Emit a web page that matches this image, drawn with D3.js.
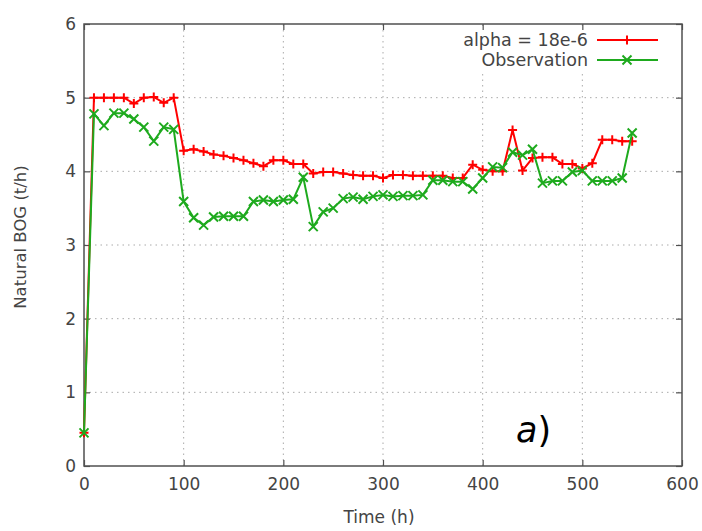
<!DOCTYPE html>
<html>
<head>
<meta charset="utf-8">
<script src="https://cdn.jsdelivr.net/npm/d3@7"></script>
<style>
  html, body { margin: 0; padding: 0; background: #fff; }
  svg { display: block; }
  text { font-family: "DejaVu Sans", sans-serif; fill: #444; }
</style>
</head>
<body>
<svg id="chart" width="702" height="531"></svg>
<script>
// ---- data ----
const times = [0,10,20,30,40,50,60,70,80,90,100,110,120,130,140,150,160,170,180,190,
  200,210,220,230,240,250,260,270,280,290,300,310,320,330,340,350,360,370,380,390,
  400,410,420,430,440,450,460,470,480,490,500,510,520,530,540,550];
const alphaSeries = [0.45,5.0,5.0,5.0,5.0,4.92,5.0,5.01,4.93,5.0,
  4.28,4.30,4.27,4.23,4.21,4.18,4.15,4.11,4.07,4.15,
  4.15,4.10,4.10,3.97,3.99,3.99,3.97,3.95,3.94,3.94,
  3.91,3.95,3.95,3.94,3.94,3.94,3.94,3.91,3.91,4.09,
  4.02,4.00,4.00,4.56,4.01,4.18,4.19,4.19,4.10,4.10,
  4.04,4.11,4.43,4.43,4.41,4.41];
const observation = [0.45,4.78,4.62,4.79,4.79,4.71,4.60,4.41,4.60,4.57,
  3.59,3.37,3.27,3.38,3.39,3.39,3.39,3.59,3.61,3.59,
  3.61,3.62,3.92,3.25,3.45,3.50,3.63,3.65,3.62,3.66,
  3.68,3.66,3.67,3.67,3.68,3.88,3.88,3.86,3.86,3.76,
  3.91,4.06,4.05,4.26,4.22,4.30,3.84,3.87,3.87,3.99,
  4.01,3.87,3.87,3.87,3.91,4.52];
const seriesNames = ["alpha = 18e-6", "Observation"];
const xTicks = [0,100,200,300,400,500,600];
const yTicks = [0,1,2,3,4,5,6];
const xLabel = "Time (h)";
const yLabel = "Natural BOG (t/h)";

// ---- layout ----
const svg = d3.select("#chart");
const x = d3.scaleLinear().domain([0,600]).range([84,682]);
const y = d3.scaleLinear().domain([0,6]).range([466,24]);
const red = "#ff0000", green = "#1eaa1e";
const frame = "#505050";

// grid
const grid = svg.append("g");
grid.selectAll("line.gx").data(xTicks.slice(1,-1)).join("line")
  .attr("x1", d => x(d)).attr("x2", d => x(d))
  .attr("y1", y(0)).attr("y2", y(6))
  .attr("stroke", "#aaa").attr("stroke-width", 1).attr("stroke-dasharray", "1.5,4");
grid.selectAll("line.gy").data(yTicks.slice(1,-1)).join("line")
  .attr("x1", x(0)).attr("x2", x(600))
  .attr("y1", d => y(d)).attr("y2", d => y(d))
  .attr("stroke", "#aaa").attr("stroke-width", 1).attr("stroke-dasharray", "1.5,4");

// legend background (hides grid)
svg.append("rect").attr("x", 455).attr("y", 27).attr("width", 222).attr("height", 46).attr("fill", "#fff");

// axes with inward ticks, mirrored
const tickLen = 6;
const axB = svg.append("g").attr("transform", `translate(0,${y(0)})`)
  .call(d3.axisBottom(x).tickValues(xTicks).tickSize(-tickLen).tickPadding(12).tickFormat(d3.format("d")));
const axT = svg.append("g").attr("transform", `translate(0,${y(6)})`)
  .call(d3.axisTop(x).tickValues(xTicks).tickSize(-tickLen).tickFormat(""));
const axL = svg.append("g").attr("transform", `translate(${x(0)},0)`)
  .call(d3.axisLeft(y).tickValues(yTicks).tickSize(-tickLen).tickPadding(8).tickFormat(d3.format("d")));
const axR = svg.append("g").attr("transform", `translate(${x(600)},0)`)
  .call(d3.axisRight(y).tickValues(yTicks).tickSize(-tickLen).tickFormat(""));
[axB, axT, axL, axR].forEach(a => {
  a.select(".domain").remove();
  a.selectAll(".tick line").attr("stroke", frame).attr("stroke-width", 1.2);
  a.selectAll(".tick text").attr("font-size", 17).attr("fill", "#444")
    .attr("font-family", "DejaVu Sans, sans-serif");
});
axB.selectAll(".tick text").attr("dy", "0.71em");
// frame
svg.append("rect").attr("x", x(0)).attr("y", y(6))
  .attr("width", x(600) - x(0)).attr("height", y(0) - y(6))
  .attr("fill", "none").attr("stroke", frame).attr("stroke-width", 1.5);

// axis labels
svg.append("text").attr("x", 379).attr("y", 523).attr("text-anchor", "middle")
  .attr("font-size", 17).text(xLabel);
svg.append("text").attr("transform", "translate(26,237) rotate(-90)").attr("text-anchor", "middle")
  .attr("font-size", 16.5).text(yLabel);

// series
const line = d3.line().x(d => x(d[0])).y(d => y(d[1]));
const alphaPts = times.map((t,i) => [t, alphaSeries[i]]);
const obsPts = times.map((t,i) => [t, observation[i]]);
const ms = 4.5;

function drawPlus(g, pts, color) {
  g.selectAll("path.m").data(pts).join("path")
    .attr("d", d => `M${x(d[0])-ms},${y(d[1])}h${2*ms}M${x(d[0])},${y(d[1])-ms}v${2*ms}`)
    .attr("stroke", color).attr("stroke-width", 2).attr("fill", "none");
}
function drawCross(g, pts, color) {
  g.selectAll("path.m").data(pts).join("path")
    .attr("d", d => `M${x(d[0])-ms},${y(d[1])-ms}l${2*ms},${2*ms}M${x(d[0])-ms},${y(d[1])+ms}l${2*ms},${-2*ms}`)
    .attr("stroke", color).attr("stroke-width", 2).attr("fill", "none");
}

const gR = svg.append("g");
gR.append("path").datum(alphaPts).attr("d", line).attr("fill", "none")
  .attr("stroke", red).attr("stroke-width", 2);
drawPlus(gR.append("g"), alphaPts, red);

const gG = svg.append("g");
gG.append("path").datum(obsPts).attr("d", line).attr("fill", "none")
  .attr("stroke", green).attr("stroke-width", 2);
drawCross(gG.append("g"), obsPts, green);

// legend
const leg = svg.append("g");
const legColors = [red, green];
seriesNames.forEach((name, i) => {
  const ly = 40 + i * 20;
  leg.append("text").attr("x", 588).attr("y", ly).attr("dy", "0.35em")
    .attr("text-anchor", "end").attr("font-size", 17.5).text(name);
  leg.append("line").attr("x1", 597).attr("x2", 658).attr("y1", ly).attr("y2", ly)
    .attr("stroke", legColors[i]).attr("stroke-width", 2);
  const mg = leg.append("g");
  if (i === 0) drawPlus(mg, [[x.invert(627), y.invert(ly)]], red);
  else drawCross(mg, [[x.invert(627), y.invert(ly)]], green);
});

// panel label
const al = svg.append("text").attr("x", 516).attr("y", 442).attr("font-size", 35)
  .attr("font-family", "Liberation Serif, serif");
al.append("tspan").attr("font-style", "italic").attr("fill", "#000").text("a");
al.append("tspan").attr("fill", "#000").text(")");
</script>
</body>
</html>
